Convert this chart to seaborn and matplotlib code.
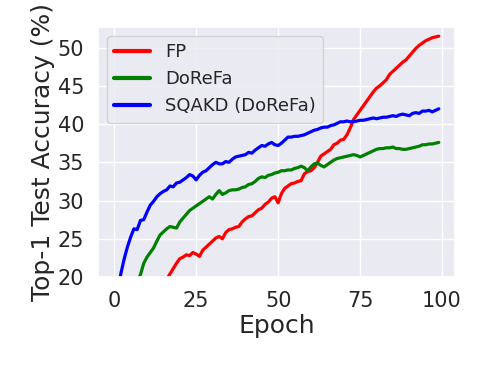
import numpy as np
import pandas as pd
import matplotlib
matplotlib.use("Agg")
import matplotlib.pyplot as plt
import seaborn as sns

sns.set_theme(style="darkgrid")

epochs = list(range(100))

fp = [8.0, 9.0, 10.0, 11.0, 12.0, 12.8, 13.6, 14.3, 15.0, 15.7,
      16.3, 16.9, 17.5, 18.1, 18.6, 19.1, 19.7, 20.4, 21.1, 21.8,
      22.4, 22.6, 22.9, 22.8, 23.2, 23.0, 22.7, 23.5, 23.9, 24.3,
      24.7, 25.1, 25.3, 25.0, 25.8, 26.2, 26.3, 26.5, 26.6, 27.2,
      27.6, 27.9, 28.0, 28.4, 28.8, 29.0, 29.5, 29.8, 30.3, 30.5,
      29.7, 30.9, 31.6, 31.9, 32.2, 32.3, 32.5, 32.6, 33.5, 33.8,
      33.9, 34.3, 35.0, 35.8, 36.1, 36.4, 36.7, 37.3, 37.5, 37.9,
      38.0, 38.6, 39.5, 40.6, 41.2, 41.8, 42.4, 43.0, 43.6, 44.2,
      44.7, 45.0, 45.4, 45.8, 46.5, 46.9, 47.3, 47.7, 48.1, 48.4,
      48.9, 49.4, 49.9, 50.3, 50.6, 50.9, 51.1, 51.3, 51.4, 51.5]

dorefa = [12.5, 13.5, 14.5, 15.5, 16.5, 17.5, 18.5, 19.4, 20.3, 21.8,
          22.6, 23.2, 23.8, 24.7, 25.5, 25.9, 26.3, 26.6, 26.5, 26.4,
          27.2, 27.7, 28.2, 28.7, 29.0, 29.3, 29.6, 29.9, 30.2, 30.5,
          30.2, 30.8, 31.3, 30.8, 31.0, 31.3, 31.4, 31.4, 31.5, 31.7,
          31.8, 32.1, 32.2, 32.5, 32.9, 33.1, 33.0, 33.3, 33.4, 33.6,
          33.7, 33.9, 33.9, 34.0, 34.0, 34.2, 34.3, 34.5, 34.3, 33.9,
          34.4, 34.8, 34.9, 34.6, 34.4, 34.7, 35.0, 35.3, 35.5, 35.6,
          35.7, 35.8, 35.9, 36.0, 35.9, 35.7, 35.9, 36.1, 36.3, 36.5,
          36.7, 36.8, 36.8, 36.9, 36.9, 37.0, 36.8, 36.8, 36.7, 36.7,
          36.8, 36.9, 37.0, 37.1, 37.3, 37.3, 37.4, 37.4, 37.5, 37.6]

sqakd = [15.5, 18.0, 20.4, 22.3, 23.9, 25.2, 26.3, 26.2, 27.4, 27.5,
         28.5, 29.4, 29.9, 30.5, 30.9, 31.2, 31.4, 31.9, 31.8, 32.3,
         32.4, 32.7, 33.0, 33.4, 33.2, 32.7, 33.3, 33.7, 33.9, 34.3,
         34.7, 35.0, 34.8, 34.8, 35.1, 35.0, 35.4, 35.7, 35.8, 35.9,
         36.0, 36.3, 36.2, 36.6, 36.9, 37.2, 37.1, 37.4, 37.6, 37.3,
         37.2, 37.5, 37.9, 38.3, 38.3, 38.4, 38.4, 38.5, 38.6, 38.8,
         39.0, 39.2, 39.3, 39.5, 39.6, 39.6, 39.8, 39.9, 40.1, 40.3,
         40.3, 40.4, 40.3, 40.3, 40.4, 40.5, 40.5, 40.6, 40.7, 40.8,
         40.7, 40.8, 40.9, 40.9, 41.0, 41.1, 41.0, 41.2, 41.3, 41.2,
         41.1, 41.4, 41.5, 41.4, 41.7, 41.7, 41.8, 41.6, 41.8, 42.0]

names = ["FP", "DoReFa", "SQAKD (DoReFa)"]
colors = ["red", "green", "blue"]

df = pd.DataFrame({
    "Epoch": epochs * 3,
    "acc": fp + dorefa + sqakd,
    "method": [names[0]] * 100 + [names[1]] * 100 + [names[2]] * 100,
})

fig = plt.figure(figsize=(4.91, 3.68), dpi=100)
ax = fig.add_axes([0.1996, 0.2473, 0.7271, 0.6793])
sns.lineplot(data=df, x="Epoch", y="acc", hue="method", palette=colors,
             linewidth=2.3, ax=ax)

ax.set_ylim(20, 52.7)
ax.set_yticks([20, 25, 30, 35, 40, 45, 50])
ax.set_xticks([0, 25, 50, 75, 100])
ax.set_xlabel("Epoch", fontsize=18, labelpad=2)
ax.set_ylabel("Top-1 Test Accuracy (%)", fontsize=18, labelpad=2)
ax.tick_params(labelsize=15, pad=4)
leg = ax.legend(loc="upper left", fontsize=13, handlelength=2.0)
for line in leg.get_lines():
    line.set_linewidth(3)

fig.savefig("out.png", dpi=100)
